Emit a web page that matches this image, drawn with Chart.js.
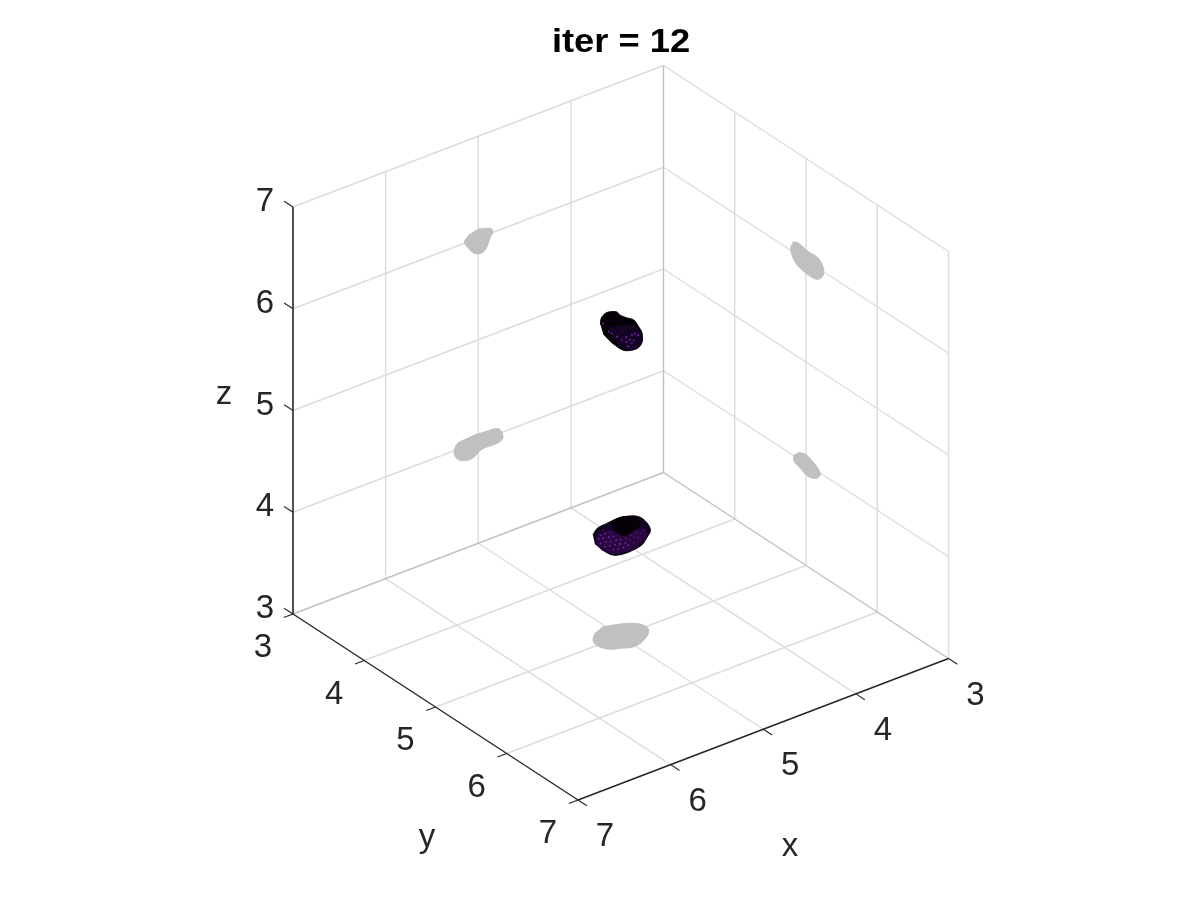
<!DOCTYPE html>
<html>
<head>
<meta charset="utf-8">
<title>iter = 12</title>
<script src="https://cdn.jsdelivr.net/npm/chart.js@4"></script>
<style>
  html, body { margin: 0; padding: 0; background: #fff; }
  canvas { display: block; }
</style>
</head>
<body>
<canvas id="chart" width="1200" height="900"></canvas>
<script>
const ticks = [3, 4, 5, 6, 7];
const titleText = "iter = 12";

// shadows on the wall y = 3, as [x, z]
const shadowBackUpper = [[5.01,6.09],[4.87,6.05],[4.84,6.01],[4.87,5.96],[4.92,5.86],[4.98,5.84],[5.05,5.87],[5.10,5.93],[5.15,6.01],[5.09,6.07]];
const shadowBackLower = [[4.87,4.07],[4.78,4.05],[4.74,3.99],[4.74,3.93],[4.82,3.91],[4.96,3.91],[5.05,3.86],[5.14,3.86],[5.23,3.91],[5.26,3.99],[5.22,4.06],[5.12,4.07],[5.00,4.08]];
// shadows on the wall x = 3, as [y, z]
const shadowSideUpper = [[4.82,6.10],[4.89,6.12],[5.03,6.10],[5.17,6.10],[5.24,6.04],[5.24,5.96],[5.17,5.89],[5.08,5.87],[4.94,5.88],[4.85,5.91],[4.79,5.99],[4.79,6.05]];
const shadowSideLower = [[4.89,4.06],[4.99,4.09],[5.08,4.07],[5.17,4.03],[5.20,3.98],[5.14,3.92],[5.03,3.89],[4.92,3.92],[4.83,3.95],[4.83,4.01]];
// shadow on the floor z = 3, as [x, y]
const shadowFloor = [[5.03,4.78],[4.88,4.83],[4.75,4.92],[4.73,5.03],[4.80,5.12],[4.92,5.19],[5.03,5.21],[5.13,5.16],[5.21,5.12],[5.26,5.01],[5.23,4.91],[5.14,4.82]];

// surfaces seen in the plane y = 5, as [x, z]
const upperOutline = [[5.22,6.14],[5.21,6.20],[5.17,6.23],[5.12,6.23],[5.04,6.20],[5.01,6.16],[4.94,6.11],[4.86,6.06],[4.81,5.98],[4.77,5.90],[4.77,5.81],[4.81,5.77],[4.88,5.77],[4.97,5.80],[5.06,5.88],[5.13,5.96],[5.19,6.04]];
const upperLit = [[5.13,6.07],[5.01,6.05],[4.86,6.00],[4.79,5.90],[4.79,5.80],[4.86,5.78],[4.95,5.81],[5.04,5.89]];
const upperMesh = [[4.94,5.92],[4.88,5.92],[4.90,5.88],[4.86,5.86],[4.94,5.87],[4.88,5.84],[4.85,5.92],[4.81,5.89],[4.92,5.82],[4.99,5.91],[5.04,5.96],[5.13,6.04],[5.10,6.01],[5.19,6.14]];
const lowerOutline = [[5.30,4.10],[5.25,4.15],[5.15,4.16],[5.06,4.17],[4.95,4.16],[4.81,4.11],[4.72,4.02],[4.68,3.93],[4.72,3.87],[4.77,3.82],[4.87,3.80],[4.98,3.80],[5.09,3.83],[5.20,3.92],[5.28,4.01]];
const lowerBody = [[5.28,4.09],[5.22,4.14],[5.13,4.16],[5.04,4.16],[4.94,4.14],[4.81,4.09],[4.73,4.02],[4.70,3.94],[4.73,3.87],[4.79,3.83],[4.87,3.81],[4.97,3.81],[5.10,3.85],[5.21,3.93],[5.27,4.01]];
const lowerLit = [[5.27,4.07],[5.15,4.08],[5.01,4.03],[4.86,3.99],[4.74,3.95],[4.73,3.88],[4.79,3.84],[4.88,3.81],[4.99,3.82],[5.10,3.85],[5.21,3.93],[5.27,4.01]];
const lowerHollow = [[5.12,4.15],[5.00,4.17],[4.87,4.12],[4.78,4.04],[4.86,3.99],[4.97,3.98],[5.06,4.05]];
const lowerMesh = [[5.24,4.04],[5.19,4.03],[5.13,4.02],[5.08,4.01],[5.22,3.99],[5.16,3.98],[5.11,3.97],[5.05,3.96],[5.00,3.95],[5.17,3.94],[5.12,3.93],[5.06,3.92],[5.01,3.91],[4.95,3.90],[5.08,3.88],[5.03,3.87],[4.97,3.86],[4.92,3.87],[5.22,4.07],[5.17,4.07]];
const lowerMeshDim = [[4.95,3.95],[4.89,3.96],[4.84,3.96],[4.90,3.91],[4.85,3.92],[4.79,3.94],[4.86,3.87],[4.81,3.90],[5.12,4.06],[4.75,3.96],[5.19,4.11]];

// axes box seen from az/el, x runs backwards
function project(x, y, z) {
  return {
    x: 293 + (y - 3) / 4 * 285 + (7 - x) / 4 * 370.5,
    y: 614 + (y - 3) / 4 * 186 - (7 - x) / 4 * 141.5 - (z - 3) / 4 * 407
  };
}

function line(points, color, width) {
  return {
    data: points.map(p => project(p[0], p[1], p[2])),
    showLine: true, borderColor: color, borderWidth: width,
    pointRadius: 0, fill: false, tension: 0
  };
}

function blob(points, color) {
  return {
    data: points.map(p => project(p[0], p[1], p[2])),
    showLine: true, borderColor: color, borderWidth: 1, backgroundColor: color,
    pointRadius: 0, fill: "shape", tension: 0.35
  };
}

function dots(points, color) {
  return {
    data: points.map(p => project(p[0], p[1], p[2])),
    showLine: false, pointRadius: 0.9, pointBorderWidth: 0,
    pointBackgroundColor: color
  };
}

const datasets = [];
const gridColor = "#dcdcdc";
const backColor = "#c0c0c0";
const axisColor = "#262626";

// grid on the three walls
ticks.slice(1, 4).forEach(t => {
  datasets.push(line([[t,3,3],[t,7,3]], gridColor, 1.4));
  datasets.push(line([[3,t,3],[7,t,3]], gridColor, 1.4));
  datasets.push(line([[t,3,3],[t,3,7]], gridColor, 1.4));
  datasets.push(line([[7,3,t],[3,3,t]], gridColor, 1.4));
  datasets.push(line([[3,t,3],[3,t,7]], gridColor, 1.4));
  datasets.push(line([[3,3,t],[3,7,t]], gridColor, 1.4));
});

// box edges behind the data
datasets.push(line([[7,3,7],[3,3,7]], gridColor, 1.4));
datasets.push(line([[3,3,7],[3,7,7]], gridColor, 1.4));
datasets.push(line([[3,7,3],[3,7,7]], gridColor, 1.4));
datasets.push(line([[7,3,3],[3,3,3]], backColor, 1.4));
datasets.push(line([[3,3,3],[3,7,3]], backColor, 1.4));
datasets.push(line([[3,3,3],[3,3,7]], backColor, 1.4));

const shadowColor = "#c0c0c0";
datasets.push(blob(shadowBackUpper.map(p => [p[0], 3, p[1]]), shadowColor));
datasets.push(blob(shadowBackLower.map(p => [p[0], 3, p[1]]), shadowColor));
datasets.push(blob(shadowSideUpper.map(p => [3, p[0], p[1]]), shadowColor));
datasets.push(blob(shadowSideLower.map(p => [3, p[0], p[1]]), shadowColor));
datasets.push(blob(shadowFloor.map(p => [p[0], p[1], 3]), shadowColor));

const surfaceDark = "#060108";
const meshBright = "#8420c8";
const meshDim = "#4f1280";
datasets.push(blob(upperOutline.map(p => [p[0], 5, p[1]]), surfaceDark));
datasets.push(blob(upperLit.map(p => [p[0], 5, p[1]]), "#160426"));
datasets.push(dots(upperMesh.map(p => [p[0], 5, p[1]]), meshBright));
datasets.push(blob(lowerOutline.map(p => [p[0], 5, p[1]]), surfaceDark));
datasets.push(blob(lowerBody.map(p => [p[0], 5, p[1]]), "#17042a"));
datasets.push(blob(lowerLit.map(p => [p[0], 5, p[1]]), "#28083f"));
datasets.push(blob(lowerHollow.map(p => [p[0], 5, p[1]]), surfaceDark));
datasets.push(dots(lowerMeshDim.map(p => [p[0], 5, p[1]]), meshDim));
datasets.push(dots(lowerMesh.map(p => [p[0], 5, p[1]]), meshBright));

// axis lines and ticks in front
datasets.push(line([[7,3,3],[7,3,7]], axisColor, 1.6));
datasets.push(line([[7,3,3],[7,7,3]], axisColor, 1.4));
datasets.push(line([[7,7,3],[3,7,3]], axisColor, 1.6));
ticks.forEach(t => {
  datasets.push(line([[7,3,t],[7,2.875,t]], axisColor, 1.1));
  datasets.push(line([[7,t,3],[7.1,t,3]], axisColor, 1.1));
  datasets.push(line([[t,7,3],[t,7.125,3]], axisColor, 1.1));
});

// first dataset is drawn at the bottom
datasets.forEach((d, i) => { d.order = datasets.length - i; });

// label positions are offsets from the tick, in pixels
const labelPlugin = {
  id: "labels",
  afterDraw(chart) {
    const { ctx, scales } = chart;
    const put = (text, px, py) => ctx.fillText(text, scales.x.getPixelForValue(px), scales.y.getPixelForValue(py));
    ctx.save();
    ctx.textAlign = "center";
    ctx.textBaseline = "middle";
    ctx.fillStyle = axisColor;
    ctx.font = "33px 'Liberation Sans'";
    ticks.forEach(t => {
      const z = project(7, 3, t), y = project(7, t, 3), x = project(t, 7, 3);
      put(String(t), z.x - 28, z.y - 5);
      put(String(t), y.x - 30, y.y + 34);
      put(String(t), x.x + 27, x.y + 37);
    });
    put("z", 224, 395);
    put("y", 427, 838);
    put("x", 790, 847);
    // title glyphs are wider than Liberation at the same height
    ctx.fillStyle = "#000";
    ctx.font = "bold 33px 'Liberation Sans'";
    ctx.translate(scales.x.getPixelForValue(621), scales.y.getPixelForValue(43));
    ctx.scale(1.1, 1);
    ctx.fillText(titleText, 0, 0);
    ctx.restore();
  }
};

new Chart(document.getElementById("chart"), {
  type: "scatter",
  data: { datasets: datasets },
  options: {
    responsive: false,
    animation: false,
    layout: { padding: 0, autoPadding: false },
    plugins: { legend: { display: false }, tooltip: { enabled: false }, title: { display: false } },
    scales: {
      x: { type: "linear", min: 0, max: 1200, display: false },
      y: { type: "linear", min: 0, max: 900, reverse: true, display: false }
    }
  },
  plugins: [labelPlugin]
});
</script>
</body>
</html>
